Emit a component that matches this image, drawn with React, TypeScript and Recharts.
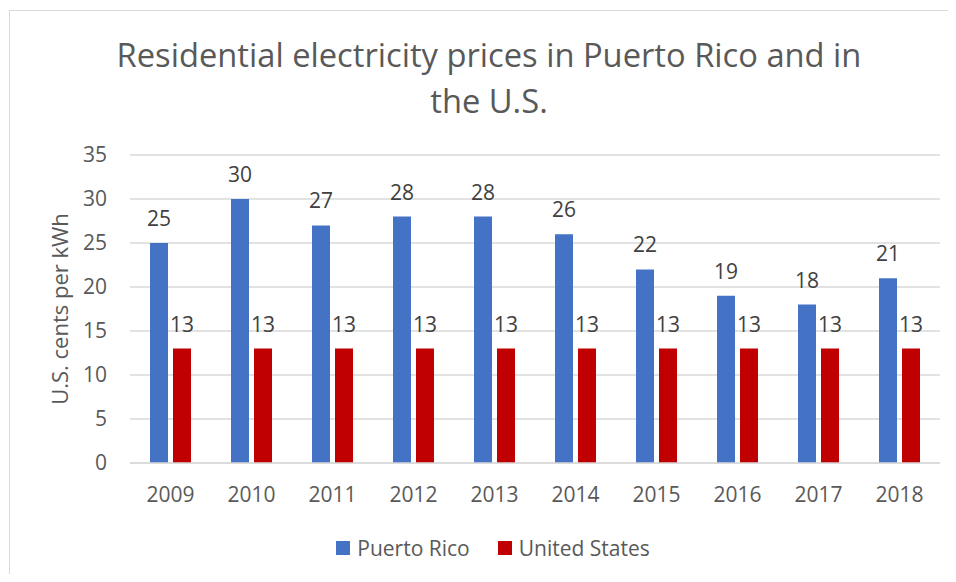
import React from 'react';
import { BarChart, Bar, XAxis, YAxis, CartesianGrid, LabelList } from 'recharts';

const years = ['2009', '2010', '2011', '2012', '2013', '2014', '2015', '2016', '2017', '2018'];
const puertoRico = [25, 30, 27, 28, 28, 26, 22, 19, 18, 21];
const unitedStates = [13, 13, 13, 13, 13, 13, 13, 13, 13, 13];
const yTicks = [0, 5, 10, 15, 20, 25, 30, 35];

const data = years.map((year, i) => ({
  year,
  pr: puertoRico[i],
  us: unitedStates[i],
}));

const FONT = '"Open Sans", "Liberation Sans", sans-serif';
const GREY = '#595959';
const BLUE = '#4472C4';
const RED = '#C00000';

const LegendBox = () => (
  <div
    style={{
      position: 'absolute',
      top: 536,
      left: 0,
      width: 986,
      display: 'flex',
      justifyContent: 'center',
      fontFamily: FONT,
      fontSize: 21,
      color: GREY,
    }}
  >
    {[
      { name: 'Puerto Rico', color: BLUE },
      { name: 'United States', color: RED },
    ].map((item, i) => (
      <div key={item.name} style={{ display: 'flex', alignItems: 'center', marginLeft: i ? 28 : 0 }}>
        <div style={{ width: 14, height: 14, background: item.color, marginRight: 7 }} />
        <span style={{ lineHeight: '24px' }}>{item.name}</span>
      </div>
    ))}
  </div>
);

const App = () => {
  return (
    <div style={{ position: 'relative', width: 956, height: 582, margin: -8, overflow: 'hidden', background: '#fff' }}>
      <div
        style={{
          position: 'absolute',
          left: 9,
          top: 10,
          width: 990,
          height: 600,
          border: '1.5px solid #D9D9D9',
        }}
      />
      <div
        style={{
          position: 'absolute',
          top: 32,
          left: 0,
          width: 978,
          textAlign: 'center',
          fontFamily: FONT,
          fontSize: 32.7,
          lineHeight: '46px',
          color: GREY,
        }}
      >
        Residential electricity prices in Puerto Rico and in
        <br />
        the U.S.
      </div>
      <div style={{ position: 'absolute', left: 0, top: 0 }}>
        <BarChart
          width={956}
          height={582}
          data={data}
          barSize={18}
          barGap={5}
          margin={{ top: 155, right: 16, bottom: 89, left: 70 }}
        >
          <CartesianGrid vertical={false} stroke="#D9D9D9" strokeWidth={1.3} />
          <XAxis
            dataKey="year"
            height={30}
            axisLine={{ stroke: '#D9D9D9', strokeWidth: 1.5 }}
            tickLine={false}
            tickSize={0}
            tickMargin={24}
            tick={{ fill: GREY, fontSize: 21, fontFamily: FONT }}
          />
          <YAxis
            width={60}
            domain={[0, 35]}
            ticks={yTicks}
            axisLine={false}
            tickLine={false}
            tickSize={0}
            tickMargin={23}
            tick={{ fill: GREY, fontSize: 21, fontFamily: FONT }}
            label={{
              value: 'U.S. cents per kWh',
              angle: -90,
              position: 'insideLeft',
              offset: 0,
              dx: -10,
              style: { fill: GREY, fontSize: 22, fontFamily: FONT, textAnchor: 'middle' },
            }}
          />
          <Bar dataKey="pr" name="Puerto Rico" fill={BLUE} isAnimationActive={false}>
            <LabelList dataKey="pr" position="top" offset={17} style={{ fill: '#404040', fontSize: 21, fontFamily: FONT }} />
          </Bar>
          <Bar dataKey="us" name="United States" fill={RED} isAnimationActive={false}>
            <LabelList dataKey="us" position="top" offset={17} style={{ fill: '#404040', fontSize: 21, fontFamily: FONT }} />
          </Bar>
        </BarChart>
      </div>
      <LegendBox />
    </div>
  );
};

export default App;
